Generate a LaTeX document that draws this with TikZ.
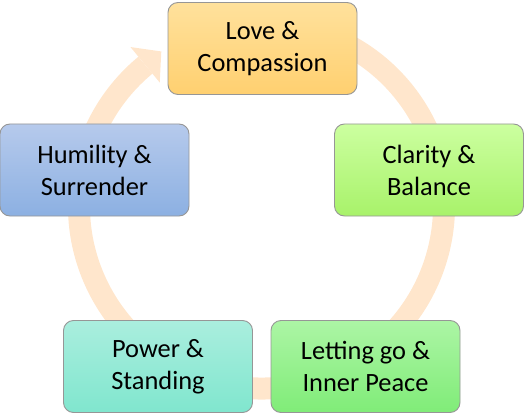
\documentclass[tikz,border=0pt]{standalone}
\usepackage{fontspec}
\setmainfont{Carlito}
\usetikzlibrary{calc}
\definecolor{cyclecolor0001}{RGB}{255,230,204}
\definecolor{cyclecolor0002}{RGB}{255,225,156}
\definecolor{cyclecolor0003}{RGB}{255,208,112}
\definecolor{cyclecolor0004}{RGB}{204,255,160}
\definecolor{cyclecolor0005}{RGB}{168,242,106}
\definecolor{cyclecolor0006}{RGB}{172,245,165}
\definecolor{cyclecolor0007}{RGB}{128,236,120}
\definecolor{cyclecolor0008}{RGB}{170,238,222}
\definecolor{cyclecolor0009}{RGB}{128,230,206}
\definecolor{cyclecolor0010}{RGB}{182,202,236}
\definecolor{cyclecolor0011}{RGB}{140,176,226}
\definecolor{cyclecolor0012}{RGB}{150,150,150}
\begin{document}
\begin{tikzpicture}[x=1pt,y=1pt
,cstyle0/.style={color=cyclecolor0001,line width=22pt}
,cstyle1/.style={fill=cyclecolor0001}
,cstyle2/.style={draw=cyclecolor0012,line width=0.9pt,rounded corners=10pt,minimum width=189pt,minimum height=92pt,align=center,inner sep=0pt,font=\fontsize{26.4}{32}\selectfont}
,cstyle3/.style={cstyle2,top color=cyclecolor0002,bottom color=cyclecolor0003}
,cstyle4/.style={cstyle2,top color=cyclecolor0004,bottom color=cyclecolor0005}
,cstyle5/.style={cstyle2,top color=cyclecolor0006,bottom color=cyclecolor0007}
,cstyle6/.style={cstyle2,top color=cyclecolor0008,bottom color=cyclecolor0009}
,cstyle7/.style={cstyle2,top color=cyclecolor0010,bottom color=cyclecolor0011}
]
\useasboundingbox (0,0) rectangle (524,418);
\coordinate (ringc) at (261.5,212);
\draw[cstyle0] ($(ringc)+(75:182.5)$) arc[start angle=75,end angle=-230.5,radius=182.5];
\fill[cstyle1] ($(ringc)+(129.5:206)$) -- ($(ringc)+(129.5:183)+(39.5:21)$) -- ($(ringc)+(129.5:160)$) -- cycle;
\node[cstyle3] (love) at (262.5,369.5) {Love \&\\Compassion};
\node[cstyle4] (clarity) at (429,248) {Clarity \&\\Balance};
\node[cstyle5] (letgo) at (365.5,51.5) {Letting go \&\\Inner Peace};
\node[cstyle6] (power) at (158,51.5) {Power \&\\Standing};
\node[cstyle7] (humility) at (94.5,248) {Humility \&\\Surrender};
\end{tikzpicture}
\end{document}
